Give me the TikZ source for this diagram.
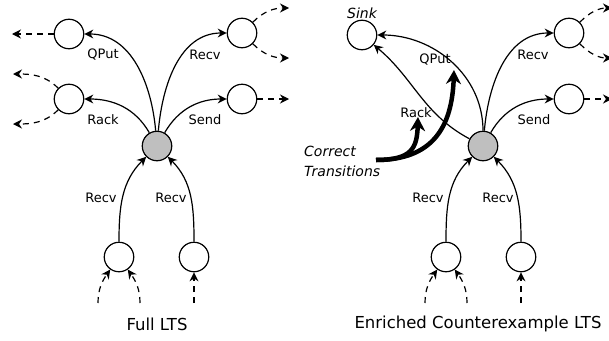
\documentclass[tikz,border=0pt]{standalone}
\usepackage{fontspec}
\setmainfont{DejaVu Sans}
\usetikzlibrary{arrows.meta}

\tikzset{
  state/.style={circle, draw, line width=1.2pt, minimum size=29.5pt, inner sep=0pt},
  cur/.style={state, fill=gray!50},
  trans/.style={line width=1.2pt, -{Stealth[length=9pt,width=9pt]}},
  more/.style={trans, dash pattern=on 6pt off 5pt},
  lbl/.style={font=\fontsize{13}{15}\selectfont},
  note/.style={font=\fontsize{14}{20}\selectfont\itshape},
  title/.style={font=\fontsize{16.5}{20}\selectfont},
  big/.style={line width=4.5pt, -{Stealth[length=14pt,width=15pt]}},
}

\begin{document}
\begin{tikzpicture}[x=1pt, y=-1pt]
    \useasboundingbox (0,0) rectangle (609,340);

    % Full LTS: states
    \node[cur] (c1) at (157,146) {};
    \node[state] (q1) at (69,34) {};
    \node[state] (r1) at (69,99) {};
    \node[state] (v1) at (242,33) {};
    \node[state] (s1) at (242,99) {};
    \node[state] (b1) at (119,257) {};
    \node[state] (b2) at (194,257) {};

    % Full LTS: transitions out of the current state
    \draw[trans] (c1) to[out=95, in=0] (q1);
    \draw[trans] (c1) to[out=120, in=0] (r1);
    \draw[trans] (c1) to[out=85, in=180] (v1);
    \draw[trans] (c1) to[out=60, in=180] (s1);
    \draw[trans] (b1) to[out=90, in=225] (c1);
    \draw[trans] (b2) to[out=90, in=-45] (c1);

    \node[lbl] (lq1) at (103,55) {QPut};
    \node[lbl] (lr1) at (103,120) {Rack};
    \node[lbl] (lv1) at (205,55) {Recv};
    \node[lbl] (ls1) at (205,120) {Send};
    \node[lbl] (lb1) at (101,198) {Recv};
    \node[lbl] (lb2) at (171,198) {Recv};

    % Full LTS: the rest of the graph
    \coordinate (q1o) at (12,34);
    \coordinate (r1a) at (13,74);
    \coordinate (r1b) at (13,124);
    \coordinate (v1a) at (289,8);
    \coordinate (v1b) at (289,58);
    \coordinate (s1o) at (289,99);
    \draw[more] (q1) -- (q1o);
    \draw[more] (r1.135) to[out=135, in=0] (r1a);
    \draw[more] (r1.225) to[out=225, in=0] (r1b);
    \draw[more] (v1.45) to[out=45, in=180] (v1a);
    \draw[more] (v1.-45) to[out=-45, in=180] (v1b);
    \draw[more] (s1) -- (s1o);

    \coordinate (b1a) at (98,303);
    \coordinate (b1b) at (140,303);
    \coordinate (b2a) at (194,303);
    \draw[more] (b1a) to[out=90, in=235] (b1.235);
    \draw[more] (b1b) to[out=90, in=-55] (b1.-55);
    \draw[more] (b2a) -- (b2);

    \node[title] (t1) at (157,324) {Full LTS};

    % Enriched counterexample LTS: states
    \node[cur] (c2) at (483,146) {};
    \node[state, label={[note, inner sep=1pt]above:Sink}] (sink) at (362,35) {};
    \node[state] (v2) at (569,33) {};
    \node[state] (s2) at (569,99) {};
    \node[state] (b3) at (446,257) {};
    \node[state] (b4) at (521,257) {};

    % Enriched counterexample LTS: transitions
    \draw[trans] (c2) to[out=90, in=0] (sink);
    \draw[trans] (c2) to[out=152, in=-40] (sink);
    \draw[trans] (c2) to[out=85, in=180] (v2);
    \draw[trans] (c2) to[out=60, in=180] (s2);
    \draw[trans] (b3) to[out=90, in=225] (c2);
    \draw[trans] (b4) to[out=90, in=-45] (c2);

    \node[lbl] (lq2) at (435,60) {QPut};
    \node[lbl] (lr2) at (416,113) {Rack};
    \node[lbl] (lv2) at (533,55) {Recv};
    \node[lbl] (ls2) at (534,120) {Send};
    \node[lbl] (lb3) at (428,198) {Recv};
    \node[lbl] (lb4) at (498,198) {Recv};

    % Enriched counterexample LTS: the rest of the graph (cut by the page edge)
    \coordinate (v2a) at (612,8);
    \coordinate (v2b) at (612,58);
    \coordinate (s2o) at (612,99);
    \draw[more] (v2.45) to[out=45, in=180] (v2a);
    \draw[more] (v2.-45) to[out=-45, in=180] (v2b);
    \draw[more] (s2) -- (s2o);

    \coordinate (b3a) at (425,303);
    \coordinate (b3b) at (467,303);
    \coordinate (b4a) at (521,303);
    \draw[more] (b3a) to[out=90, in=235] (b3.235);
    \draw[more] (b3b) to[out=90, in=-55] (b3.-55);
    \draw[more] (b4a) -- (b4);

    % Pointer to the correct transitions
    \node[note, align=left, anchor=west, inner sep=0pt] (ct) at (304,161) {Correct\\Transitions};
    \coordinate (ctstart) at (376,160);
    \coordinate (ctrack) at (418,117);
    \coordinate (ctqput) at (454,70);
    \draw[big] (ctstart) .. controls (412,160) and (417,148) .. (ctrack);
    \draw[big] (ctstart) .. controls (432,160) and (452,128) .. (ctqput);

    \node[title] (t2) at (478,324) {Enriched Counterexample LTS};

\end{tikzpicture}
\end{document}
